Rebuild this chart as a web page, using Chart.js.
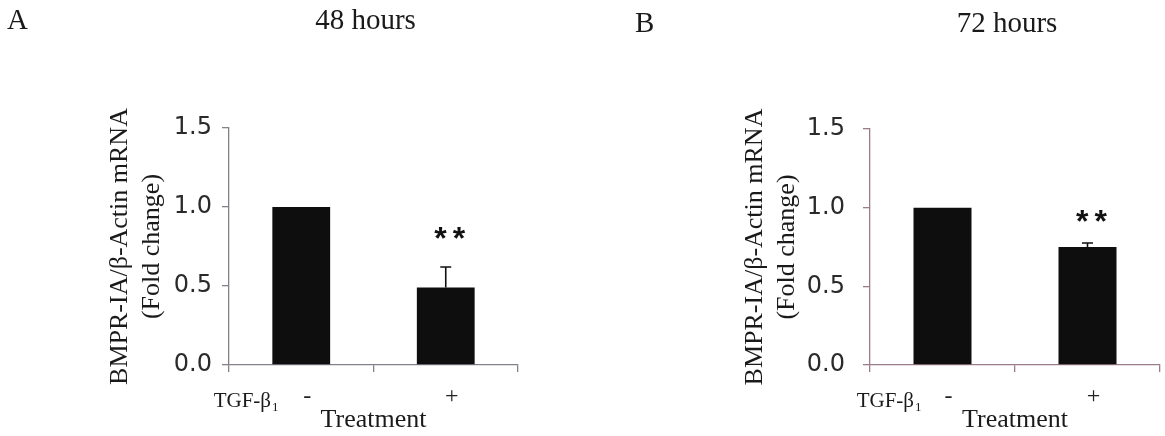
<!DOCTYPE html>
<html>
<head>
<meta charset="utf-8">
<script src="https://cdn.jsdelivr.net/npm/chart.js@4/dist/chart.umd.min.js"></script>
<style>
  html, body { margin: 0; padding: 0; background: #fff; }
  #wrap { position: relative; width: 1165px; height: 436px; overflow: hidden; }
  canvas { position: absolute; top: 0; }
  #panelA { left: 0; }
  #panelB { left: 582px; }
</style>
</head>
<body>
<div id="wrap">
  <canvas id="panelA" width="582" height="436"></canvas>
  <canvas id="panelB" width="583" height="436"></canvas>
</div>
<script>
// data
const categories = ['-', '+'];
const values48 = [1.0, 0.49];
const errors48 = [0, 0.13];
const values72 = [1.0, 0.75];
const errors72 = [0, 0.025];
const significance = ['', '**'];
const yTickValues = [0, 0.5, 1.0, 1.5];
const yAxisTitle = ['BMPR-IA/β-Actin mRNA', '(Fold change)'];
const xAxisTitle = 'Treatment';
const factorLabel = 'TGF-β';
const factorSub = '1';
const panelLetters = ['A', 'B'];
const panelTitles = ['48 hours', '72 hours'];

const SERIF = '"Liberation Serif", "Times New Roman", serif';
const SANS = '"DejaVu Sans", sans-serif';

// error bars, asterisks, panel letter/title and the TGF-b1 row label
const annotations = {
    id: 'annotations',
    afterDatasetsDraw(chart, args, opts) {
        const ctx = chart.ctx;
        const xs = chart.scales.x;
        const ys = chart.scales.y;
        const area = chart.chartArea;
        const values = chart.data.datasets[0].data;

        ctx.save();
        // error bars (upper half only)
        ctx.strokeStyle = '#111';
        ctx.lineWidth = 1.6;
        opts.errors.forEach((e, i) => {
            if (!e) return;
            const x = xs.getPixelForValue(i);
            const y0 = ys.getPixelForValue(values[i]);
            const y1 = ys.getPixelForValue(values[i] + e);
            ctx.beginPath();
            ctx.moveTo(x, y0);
            ctx.lineTo(x, y1);
            ctx.moveTo(x - 5.5, y1);
            ctx.lineTo(x + 5.5, y1);
            ctx.stroke();
        });

        // significance marks
        ctx.fillStyle = '#111';
        ctx.font = 'bold 32px "Liberation Sans", Arial, sans-serif';
        ctx.textAlign = 'center';
        ctx.textBaseline = 'middle';
        ctx.letterSpacing = '6px';
        significance.forEach((s, i) => {
            if (!s) return;
            const x = xs.getPixelForValue(i) + 7;
            const y = ys.getPixelForValue(values[i] + opts.errors[i]) - opts.starGap;
            ctx.fillText(s, x, y);
        });
        ctx.letterSpacing = '0px';

        // panel letter and title
        ctx.fillStyle = '#1a1a1a';
        ctx.font = '29px ' + SERIF;
        ctx.textAlign = 'left';
        ctx.fillText(opts.letter, opts.letterX, opts.headY);
        ctx.textAlign = 'center';
        ctx.fillText(opts.title, (area.left + area.right) / 2 - 8, opts.headY);

        // TGF-b1 row label
        ctx.font = '21px ' + SERIF;
        ctx.textAlign = 'right';
        ctx.textBaseline = 'alphabetic';
        const subW = 8;
        const right = area.left + opts.factorRight;
        ctx.fillText(factorLabel, right - subW, opts.factorY);
        ctx.font = '13px ' + SERIF;
        ctx.textAlign = 'left';
        ctx.fillText(factorSub, right - subW + 1, opts.factorY + 4);
        ctx.restore();
    }
};

function createPanel(canvasId, values, errors, p) {
    const ctx = document.getElementById(canvasId).getContext('2d');
    return new Chart(ctx, {
        type: 'bar',
        data: {
            labels: categories,
            datasets: [{
                data: values,
                backgroundColor: '#0e0e0e',
                borderWidth: 0,
                categoryPercentage: 1.0,
                barPercentage: 0.4
            }]
        },
        options: {
            responsive: false,
            animation: false,
            layout: {
                padding: { left: p.padLeft, right: p.padRight, top: p.padTop, bottom: 0 }
            },
            plugins: {
                legend: { display: false },
                tooltip: { enabled: false },
                annotations: {
                    errors: errors,
                    letter: p.letter,
                    title: p.title,
                    letterX: p.letterX,
                    headY: p.headY,
                    starGap: p.starGap,
                    factorRight: p.factorRight,
                    factorY: p.factorY
                }
            },
            scales: {
                x: {
                    afterFit(scale) { scale.height = 71; },
                    grid: {
                        drawOnChartArea: false,
                        offset: true,
                        tickLength: 7,
                        color: p.axisColor,
                        lineWidth: 1.3
                    },
                    border: { color: p.axisColor, width: 1.3 },
                    ticks: {
                        color: '#222',
                        font: { family: SERIF, size: 24 },
                        padding: 10,
                        labelOffset: 6
                    },
                    title: {
                        display: true,
                        text: xAxisTitle,
                        color: '#1a1a1a',
                        font: { family: SERIF, size: 26, lineHeight: 1.2 },
                        padding: { top: 0, bottom: 0 }
                    }
                },
                y: {
                    min: 0,
                    max: 1.5,
                    afterFit(scale) { scale.width = 229; },
                    afterBuildTicks(scale) {
                        scale.ticks = yTickValues.map(v => ({ value: v }));
                    },
                    grid: {
                        drawOnChartArea: false,
                        tickLength: 7,
                        color: p.axisColor,
                        lineWidth: 1.3
                    },
                    border: { color: p.axisColor, width: 1.3 },
                    ticks: {
                        color: '#2a2a2a',
                        font: { family: SANS, size: 24 },
                        padding: p.tickPad,
                        callback: v => Number(v).toFixed(1)
                    },
                    title: {
                        display: true,
                        text: yAxisTitle,
                        color: '#1a1a1a',
                        font: { family: SERIF, size: 26, lineHeight: 1.24 },
                        padding: { top: p.titlePad, bottom: 0 }
                    }
                }
            }
        },
        plugins: [annotations]
    });
}

createPanel('panelA', values48, errors48, {
    letter: panelLetters[0], title: panelTitles[0],
    padLeft: 0, padRight: 64, padTop: 128,
    axisColor: '#85808a', tickPad: 10, titlePad: 104,
    letterX: 7, headY: 21, starGap: 27,
    factorRight: 50, factorY: 407
});

createPanel('panelB', values72, errors72, {
    letter: panelLetters[1], title: panelTitles[1],
    padLeft: 59, padRight: 5, padTop: 129,
    axisColor: '#9c7c8a', tickPad: 18, titlePad: 98,
    letterX: 53, headY: 24, starGap: 20,
    factorRight: 52, factorY: 407
});
</script>
</body>
</html>
